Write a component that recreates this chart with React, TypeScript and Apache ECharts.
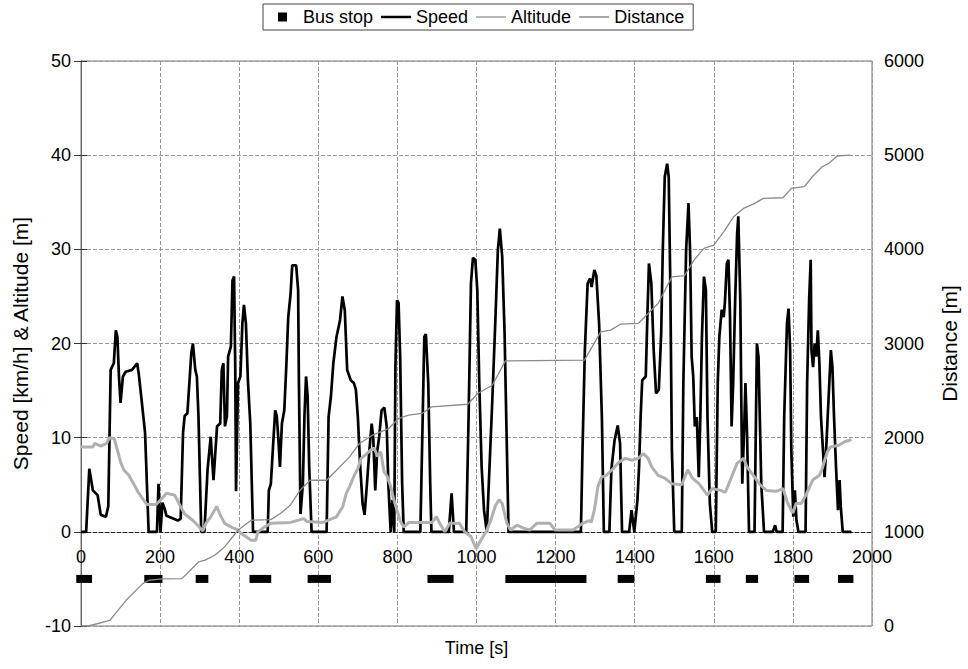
import React, { useEffect, useRef } from "react";
import * as echarts from "echarts";

// Time [s] vs speed [km/h]
const speed: [number, number][] = [
  [0, 0], [13, 0], [21, 6.7], [30, 4.4], [42, 3.9], [50, 1.8], [63, 1.6], [69, 2.7], [75, 17.2], [83, 17.9],
  [88, 21.4], [92, 20.7], [96, 16.5], [100, 13.7], [106, 16.5], [113, 17], [129, 17.2], [142, 17.9], [146, 16.8],
  [154, 13.7], [162, 10.5], [171, 0], [192, 0], [196, 5.1], [201, 0], [206, 3.1], [212, 2.4], [216, 1.7],
  [245, 1.2], [252, 1.4], [258, 10.5], [262, 12.3], [269, 12.6], [279, 19], [283, 20], [289, 17.2], [293, 16.5],
  [297, 12.3], [304, 0], [312, 0], [320, 6.6], [328, 10.1], [335, 5.5], [344, 11.2], [352, 11.5], [356, 17.2],
  [360, 17.9], [364, 11.2], [369, 12.3], [372, 18.6], [379, 19.7], [383, 26.7], [387, 27.1], [390, 17.5],
  [392, 4.3], [397, 15.8], [403, 16.5], [408, 22.1], [412, 24.1], [417, 22.1], [422, 16.1], [428, 11.5],
  [435, 0], [472, 0], [475, 4.4], [480, 5.1], [486, 9.4], [491, 12.9], [495, 12.3], [499, 9.9], [503, 6.9],
  [508, 11.5], [514, 12.9], [519, 17.5], [524, 22.8], [530, 25.3], [534, 28.3], [544, 28.3], [549, 25.7],
  [551, 15.8], [555, 1.9], [561, 5.1], [565, 12.3], [569, 16.5], [573, 14.4], [577, 6.9], [583, 0], [621, 0],
  [626, 12.2], [632, 14.4], [638, 17.9], [646, 20.7], [655, 22.5], [661, 25], [667, 23.5], [673, 17.2],
  [682, 16.1], [690, 15.8], [695, 15.1], [700, 12.2], [706, 6.9], [712, 3.0], [717, 1.8], [723, 5.1], [729, 8.6],
  [735, 11.5], [739, 9.9], [744, 4.4], [749, 8.6], [754, 10.1], [760, 12.9], [767, 13.2], [773, 11.2],
  [777, 5.1], [783, 0], [787, 3.4], [792, 0], [795, 17.5], [799, 24.6], [803, 24.3], [807, 18.6], [812, 5.1],
  [816, 0], [858, 0], [864, 12.2], [868, 20.7], [872, 21], [878, 15.8], [883, 5.1], [886, 0], [930, 0],
  [937, 4.1], [943, 0], [974, 0], [980, 12.2], [986, 26.4], [991, 29.1], [997, 28.9], [1002, 25.7],
  [1007, 15.8], [1013, 6.9], [1019, 2.3], [1026, 0], [1040, 14], [1048, 22.8], [1054, 29.9], [1059, 32.2],
  [1065, 29.2], [1071, 21.1], [1076, 10.5], [1081, 0], [1264, 0], [1268, 8.7], [1274, 19.3], [1281, 26.4],
  [1287, 26.9], [1291, 26], [1298, 27.8], [1303, 27.2], [1310, 22.1], [1317, 12.2], [1322, 0], [1336, 0],
  [1341, 6.6], [1349, 9.7], [1357, 11.3], [1363, 9.4], [1368, 0], [1386, 0], [1392, 2.3], [1399, 0],
  [1407, 3.4], [1411, 6.9], [1415, 12.2], [1419, 16.1], [1428, 16.5], [1432, 22.8], [1436, 28.5], [1442, 26.4],
  [1448, 19.3], [1454, 14.7], [1461, 15.1], [1467, 21.1], [1471, 29.9], [1476, 37.7], [1482, 39.1],
  [1486, 37.7], [1490, 26.4], [1494, 8.7], [1500, 0], [1519, 0], [1523, 15.8], [1530, 29.9], [1536, 34.9],
  [1540, 29.9], [1544, 18.6], [1548, 16.5], [1552, 11.2], [1557, 12.2], [1562, 5.8], [1566, 12.2],
  [1570, 20.7], [1575, 27.1], [1580, 25.7], [1584, 12.2], [1590, 3.0], [1596, 0], [1605, 0], [1610, 15.8],
  [1614, 20.7], [1620, 23.6], [1625, 22.8], [1628, 24.3], [1633, 28.5], [1637, 28.9], [1641, 22.8],
  [1645, 11.2], [1649, 15.8], [1654, 24.6], [1659, 31.7], [1662, 33.5], [1667, 24.6], [1670, 12.2],
  [1672, 5.1], [1677, 11.2], [1680, 15.8], [1684, 10.5], [1689, 0], [1703, 0], [1709, 20], [1713, 18.6],
  [1720, 5.1], [1727, 0], [1749, 0], [1755, 0.7], [1759, 0], [1774, 0], [1778, 12.2], [1785, 22.1],
  [1789, 23.7], [1793, 19.3], [1796, 8.7], [1801, 1.6], [1805, 4.4], [1809, 1.2], [1814, 0], [1832, 0],
  [1836, 15.8], [1841, 24.6], [1845, 28.9], [1847, 19.3], [1851, 17.5], [1855, 20], [1859, 18.6],
  [1863, 21.4], [1867, 17.9], [1871, 12.2], [1876, 8.7], [1880, 5.8], [1884, 8.7], [1890, 14], [1896, 19.3],
  [1900, 17.5], [1904, 12.2], [1909, 6.9], [1914, 2.3], [1918, 5.5], [1921, 2.7], [1926, 0], [1948, 0],
];

// Time [s] vs altitude [m]
const altitude: [number, number][] = [
  [0, 9.0], [30, 9.0], [35, 9.4], [50, 9.1], [65, 9.4], [72, 10.0], [84, 9.9], [92, 8.7], [100, 7.4],
  [108, 6.6], [121, 6.0], [133, 5.1], [146, 4.1], [158, 3.4], [167, 2.9], [190, 2.9], [204, 3.5], [216, 4.1],
  [237, 3.9], [249, 2.9], [262, 1.9], [283, 1.2], [295, 0.7], [308, 0.1], [316, 0.9], [328, 1.6], [335, 2.1],
  [343, 2.7], [351, 1.9], [363, 0.9], [380, 0.5], [397, 0.2], [405, -0.2], [417, -0.5], [430, -0.9],
  [442, -0.9], [447, 0], [463, 0.5], [480, 0.9], [530, 1.0], [563, 1.4], [571, 1.1], [612, 1.0], [629, 1.3],
  [646, 1.6], [662, 2.7], [671, 4.1], [679, 4.8], [691, 6.0], [700, 6.7], [708, 7.8], [720, 8.2], [733, 8.7],
  [741, 8.9], [750, 8.0], [758, 8.5], [766, 6.4], [774, 5.9], [783, 4.8], [791, 3.4], [799, 2.3], [808, 1.1],
  [816, 0.5], [829, 1.0], [887, 1.0], [899, 1.6], [907, 0.9], [920, 0], [932, 0.9], [957, 0.9], [970, 0],
  [986, -0.5], [999, -1.8], [1011, -0.9], [1024, 0], [1036, 1.2], [1048, 2.8], [1057, 3.4], [1065, 3.0],
  [1071, 1.9], [1077, 0.9], [1086, 0.2], [1102, 0.7], [1119, 0.4], [1135, 0.2], [1152, 0.9], [1186, 0.9],
  [1198, 0.2], [1244, 0.2], [1268, 0.9], [1285, 1.2], [1290, 1.0], [1298, 2.3], [1307, 4.8], [1316, 5.8],
  [1328, 6.0], [1345, 6.7], [1360, 7.4], [1376, 7.8], [1393, 7.6], [1409, 7.8], [1422, 8.3], [1434, 7.8],
  [1443, 6.9], [1459, 6.0], [1476, 5.7], [1494, 5.1], [1519, 5.0], [1534, 6.6], [1546, 5.7], [1563, 5.1],
  [1584, 3.9], [1596, 4.6], [1617, 4.4], [1629, 4.2], [1638, 5.1], [1659, 7.3], [1675, 7.8], [1684, 6.9],
  [1700, 6.0], [1717, 5.0], [1733, 4.4], [1758, 4.3], [1775, 4.6], [1787, 3.0], [1800, 2.0], [1808, 3.0],
  [1821, 3.0], [1833, 3.9], [1850, 5.5], [1867, 6.0], [1874, 6.7], [1887, 8.5], [1895, 9.0], [1916, 9.2],
  [1932, 9.6], [1941, 9.7], [1948, 9.8],
];

// Time [s] vs distance [m]
const distance: [number, number][] = [
  [0, 0], [19, 0], [73, 60], [114, 273], [156, 450], [172, 486], [206, 500], [255, 503], [272, 574],
  [297, 680], [314, 700], [338, 751], [363, 840], [397, 1017], [430, 1123], [480, 1130], [504, 1194],
  [529, 1282], [554, 1442], [579, 1548], [621, 1548], [646, 1654], [679, 1796], [704, 1938], [737, 2026],
  [778, 2097], [803, 2203], [828, 2239], [862, 2257], [886, 2327], [978, 2355], [1003, 2469], [1040, 2557],
  [1073, 2815], [1273, 2823], [1314, 3124], [1339, 3142], [1364, 3205], [1409, 3213], [1434, 3319],
  [1459, 3425], [1494, 3708], [1526, 3720], [1550, 3885], [1575, 4010], [1600, 4045], [1625, 4186],
  [1650, 4345], [1675, 4434], [1700, 4480], [1725, 4541], [1775, 4548], [1796, 4647], [1829, 4665],
  [1849, 4771], [1874, 4877], [1891, 4913], [1912, 4991], [1945, 5000],
];

// Bus stop intervals [start, end] in seconds
const busStops: [number, number][] = [
  [-12, 28], [160, 206], [290, 322], [426, 481], [573, 632], [876, 942],
  [1073, 1278], [1357, 1399], [1580, 1617], [1681, 1712], [1804, 1841], [1914, 1953],
];
const busStopLevel = -5;

const FONT = "Liberation Sans, Arial, sans-serif";

// grid geometry (pixels)
const GRID_TOP = 61;
const GRID_BOTTOM = 43;
const CHART_H = 669;
const Y_MIN = -10;
const Y_MAX = 50;
const plotH = CHART_H - GRID_TOP - GRID_BOTTOM;
const zeroOffset = -(plotH * (0 - Y_MIN)) / (Y_MAX - Y_MIN);

const plain = (v: number) => String(v);

export default function App() {
  const ref = useRef<HTMLDivElement>(null);
  useEffect(() => {
    if (!ref.current) return;
    const chart = echarts.init(ref.current, undefined, { renderer: "svg" });
    const option: any = {
      animation: false,
      backgroundColor: "#fff",
      textStyle: { fontFamily: FONT, color: "#000" },
      legend: {
        left: 263,
        top: 4,
        padding: [4, 9, 4, 5],
        itemGap: 8,
        itemWidth: 30,
        itemHeight: 14,
        borderColor: "#444",
        borderWidth: 1,
        textStyle: { fontSize: 18, color: "#000", fontFamily: FONT },
        data: [
          { name: "Bus stop", icon: "path://M0,0M30,14M10,2.5h9v9h-9z", itemStyle: { color: "#000", borderWidth: 0 } },
          { name: "Speed", icon: "path://M0,0M30,14M0,5.75h30v2.5h-30z", itemStyle: { color: "#000", borderWidth: 0 } },
          { name: "Altitude", icon: "path://M0,0M30,14M0,6h30v2h-30z", itemStyle: { color: "#b8b8b8", borderWidth: 0 } },
          { name: "Distance", icon: "path://M0,0M30,14M0,6.25h30v1.5h-30z", itemStyle: { color: "#8a8a8a", borderWidth: 0 } },
        ],
      },
      grid: {
        left: 81,
        right: 84,
        top: GRID_TOP,
        bottom: GRID_BOTTOM,
        show: true,
        borderColor: "#777",
        borderWidth: 1,
      },
      xAxis: [
        {
          type: "value",
          min: 0,
          max: 2000,
          interval: 200,
          position: "bottom",
          axisLine: { show: false, onZero: false },
          axisTick: { show: false },
          axisLabel: { show: false },
          splitLine: { show: true, lineStyle: { color: "#999", type: "dashed", width: 1 } },
          name: "Time [s]",
          nameLocation: "middle",
          nameGap: 13,
          nameTextStyle: { fontSize: 18, color: "#000", fontFamily: FONT },
        },
        {
          type: "value",
          min: 0,
          max: 2000,
          interval: 200,
          position: "bottom",
          offset: zeroOffset,
          axisLine: { show: true, onZero: false, lineStyle: { color: "#222", type: "dashed", width: 1 } },
          axisTick: { show: false },
          axisLabel: { fontSize: 18, color: "#000", margin: 16, fontFamily: FONT, formatter: plain },
          splitLine: { show: false },
        },
      ],
      yAxis: [
        {
          type: "value",
          min: Y_MIN,
          max: Y_MAX,
          interval: 10,
          position: "left",
          axisLine: { show: true, lineStyle: { color: "#666" } },
          axisTick: { show: true, length: 7, lineStyle: { color: "#333" } },
          axisLabel: { fontSize: 18, color: "#000", margin: 10, fontFamily: FONT, formatter: plain },
          splitLine: { show: true, lineStyle: { color: "#999", type: "dashed", width: 1 } },
          name: "Speed [km/h] & Altitude [m]",
          nameLocation: "middle",
          nameRotate: 90,
          nameGap: 50,
          nameTextStyle: { fontSize: 21, color: "#000", fontFamily: FONT },
        },
        {
          type: "value",
          min: 0,
          max: 6000,
          interval: 1000,
          position: "right",
          axisLine: { show: true, lineStyle: { color: "#666" } },
          axisTick: { show: true, length: 6, lineStyle: { color: "#333" } },
          axisLabel: { fontSize: 18, color: "#000", margin: 12, fontFamily: FONT, formatter: plain },
          splitLine: { show: false },
          name: "Distance [m]",
          nameLocation: "middle",
          nameRotate: 90,
          nameGap: 67,
          nameTextStyle: { fontSize: 21, color: "#000", fontFamily: FONT },
        },
      ],
      series: [
        {
          type: "custom",
          name: "Bus stop",
          xAxisIndex: 0,
          yAxisIndex: 0,
          clip: false,
          itemStyle: { color: "#000" },
          encode: { x: [0, 1], y: 2 },
          data: busStops.map(([a, b]) => [a, b, busStopLevel]),
          renderItem: (params: any, api: any) => {
            const s = api.coord([api.value(0), api.value(2)]);
            const e = api.coord([api.value(1), api.value(2)]);
            const h = 8;
            return {
              type: "rect",
              shape: { x: s[0], y: s[1] - h / 2, width: e[0] - s[0], height: h },
              style: { fill: "#000" },
            };
          },
        },
        {
          type: "line",
          name: "Speed",
          xAxisIndex: 0,
          yAxisIndex: 0,
          symbol: "none",
          data: speed,
          lineStyle: { color: "#000", width: 2.7 },
          itemStyle: { color: "#000" },
        },
        {
          type: "line",
          name: "Altitude",
          xAxisIndex: 0,
          yAxisIndex: 0,
          symbol: "none",
          data: altitude,
          lineStyle: { color: "#b0b0b0", width: 3 },
          itemStyle: { color: "#b0b0b0" },
        },
        {
          type: "line",
          name: "Distance",
          xAxisIndex: 0,
          yAxisIndex: 1,
          symbol: "none",
          data: distance,
          lineStyle: { color: "#8a8a8a", width: 1.3 },
          itemStyle: { color: "#8a8a8a" },
        },
      ],
    };
    chart.setOption(option);
    return () => chart.dispose();
  }, []);
  return (
    <div
      ref={ref}
      style={{ position: "fixed", left: 0, top: 0, width: 968, height: 669, background: "#fff" }}
    />
  );
}
